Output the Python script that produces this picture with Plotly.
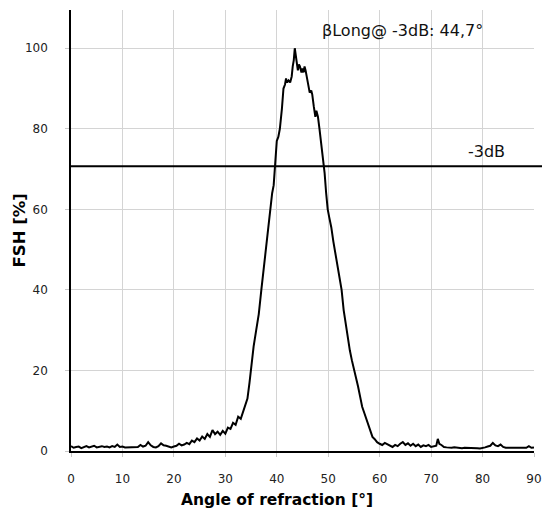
import plotly.graph_objects as go

angle_deg = [0, 0.5, 1, 1.5, 2, 2.5, 3, 3.5, 4, 4.5, 5, 5.5, 6, 6.5, 7, 7.5, 8, 8.5, 9, 9.5,
             10, 10.5, 11, 11.5, 12, 12.5, 13, 13.5, 14, 14.5, 15, 15.5, 16, 16.5, 17, 17.5, 18, 18.5, 19, 19.5,
             20, 20.5, 21, 21.5, 22, 22.5, 23, 23.5, 24, 24.5, 25, 25.5, 26, 26.5, 27, 27.5, 28, 28.5, 29, 29.5,
             30, 30.5, 31, 31.5, 32, 32.5, 33, 33.5, 34, 34.3, 34.7, 35, 35.5, 36, 36.5, 37, 37.5, 38, 38.4, 38.8,
             39.1, 39.4, 39.7, 40, 40.3, 40.6, 41, 41.3, 41.6, 41.8, 42, 42.3, 42.6, 42.9, 43.1, 43.3, 43.5, 43.7, 43.9,
             44.1, 44.3, 44.5, 44.8, 45.0, 45.2, 45.4, 45.6, 45.8, 46.0, 46.2, 46.4, 46.7, 46.9, 47.2, 47.5, 47.7,
             48, 48.3, 48.6, 49, 49.3, 49.6, 49.9, 50.2, 50.6, 51, 51.4, 51.8, 52.2, 52.6, 53, 53.4, 53.8, 54.2,
             54.6, 55, 55.4, 55.8, 56.2, 56.6, 57, 57.4, 57.8, 58.2, 58.6, 59, 59.5, 60, 60.5, 61, 61.5, 62, 62.5,
             63, 63.5, 64, 64.5, 65, 65.5, 66, 66.5, 67, 67.5, 68, 68.5, 69, 69.5, 70, 70.5, 71, 71.3, 71.6, 72,
             72.5, 73, 73.5, 74, 74.5, 75, 75.5, 76, 76.5, 77, 77.5, 78, 78.5, 79, 79.5, 80, 80.5, 81, 81.5, 82,
             82.5, 83, 83.5, 84, 84.5, 85, 85.5, 86, 86.5, 87, 87.5, 88, 88.5, 89, 89.5, 90]

fsh_pct = [1.2, 0.8, 1.0, 1.1, 0.7, 1.0, 1.2, 0.9, 1.1, 1.3, 0.9, 1.0, 1.2, 1.0, 1.1, 0.9, 1.2, 1.0, 1.6, 1.0,
           1.1, 0.9, 0.9, 0.9, 0.9, 0.9, 1.0, 1.5, 1.1, 1.3, 2.2, 1.4, 1.0, 0.9, 1.2, 1.9, 1.4, 1.3, 1.0, 0.9,
           1.1, 1.3, 1.8, 1.4, 1.6, 2.0, 1.7, 2.6, 2.2, 3.1, 2.6, 3.6, 3.0, 4.2, 3.5, 5.2, 4.2, 4.8, 4.0, 5.0,
           4.3, 5.8, 5.5, 7.0, 6.5, 8.5, 8.0, 10.0, 11.5, 13, 17, 21, 26, 30, 34, 40, 46, 51, 56, 60,
           64, 66, 71, 77, 78, 80, 85, 90, 91, 92.5, 91.5, 92, 91.5, 93, 95.5, 97, 100, 98.5, 96.5,
           94.5, 96, 95.5, 94, 95, 94, 95.5, 94.5, 93, 91.5, 90, 89, 89.5, 88.5, 85.5, 83, 84.5,
           83, 80, 76.5, 73, 69, 64, 60, 58, 55.5, 52, 49, 46, 42, 40, 35, 31.5, 28, 25,
           22.5, 20.5, 18, 16, 13.5, 11, 9.5, 8, 6, 4.5, 3.5, 3.0, 2.2, 1.8, 1.5, 2.0, 1.6, 1.3, 1.0,
           1.5, 1.2, 1.8, 2.2, 1.5, 1.9, 1.3, 1.8, 1.2, 1.6, 1.0, 1.4, 1.2, 1.5, 1.0, 1.2, 1.3, 3.0, 1.8, 1.5,
           1.0, 0.9, 0.8, 0.8, 0.9, 0.8, 0.8, 0.7, 0.8, 0.8, 0.7, 0.8, 0.7, 0.7, 0.6, 0.7, 0.9, 1.1, 1.3, 2.0,
           1.4, 1.2, 1.6, 1.0, 0.8, 0.8, 0.8, 0.8, 0.8, 0.8, 0.8, 0.8, 0.8, 1.2, 0.8, 0.9]

x_ticks = [0, 10, 20, 30, 40, 50, 60, 70, 80, 90]
y_ticks = [0, 20, 40, 60, 80, 100]
minus3db_level = 70.7
beam_label = "βLong@ -3dB: 44,7°"
level_label = "-3dB"
x_title = "<b>Angle of refraction [°]</b>"
y_title = "<b>FSH [%]</b>"

font_family = "DejaVu Sans, Verdana, sans-serif"

fig = go.Figure()
fig.add_trace(go.Scatter(x=angle_deg, y=fsh_pct, mode="lines",
                         line=dict(color="black", width=2), hoverinfo="skip", showlegend=False))

fig.add_shape(type="line", xref="paper", yref="y", x0=0, x1=1.03,
              y0=minus3db_level, y1=minus3db_level, line=dict(color="black", width=2))

fig.add_annotation(x=64.5, y=104.3, text=beam_label, showarrow=False,
                   font=dict(family=font_family, size=16, color="#111"))
fig.add_annotation(x=80.8, y=74.3, text=level_label, showarrow=False,
                   font=dict(family=font_family, size=16, color="#111"))

# axis titles
fig.add_annotation(xref="x", yref="paper", x=40.0, y=0, yshift=-49, yanchor="middle",
                   text=x_title, showarrow=False,
                   font=dict(family=font_family, size=15.5, color="black"))
fig.add_annotation(xref="paper", yref="paper", x=0, xshift=-52, xanchor="center", y=0.50,
                   yanchor="middle", text=y_title, textangle=-90, showarrow=False,
                   font=dict(family=font_family, size=16.5, color="black"))

fig.update_layout(
    width=542, height=511,
    margin=dict(l=71, r=8, t=10, b=60, autoexpand=False),
    paper_bgcolor="white", plot_bgcolor="white",
    font=dict(family=font_family, color="#222"),
)
fig.update_xaxes(range=[0, 90], tickvals=x_ticks, showgrid=True, gridcolor="#d4d4d4", gridwidth=1,
                 showline=True, linecolor="black", linewidth=1.5, zeroline=False, automargin=False,
                 ticks="outside", ticklen=4, tickcolor="#c8c8c8", ticklabelstandoff=12,
                 ticklabeloverflow="allow",
                 tickfont=dict(family=font_family, size=12, color="#222"))
fig.update_yaxes(range=[0, 109.5], tickvals=y_ticks, showgrid=True, gridcolor="#d4d4d4", gridwidth=1,
                 showline=True, linecolor="black", linewidth=1.5, zeroline=False, automargin=False,
                 ticks="outside", ticklen=4, tickcolor="#c8c8c8", ticklabelstandoff=15,
                 tickfont=dict(family=font_family, size=12, color="#222"))

fig.write_html(
    "out.html",
    config={"displayModeBar": False},
    post_script="document.body.style.margin='0';document.documentElement.style.overflow='hidden';",
)
